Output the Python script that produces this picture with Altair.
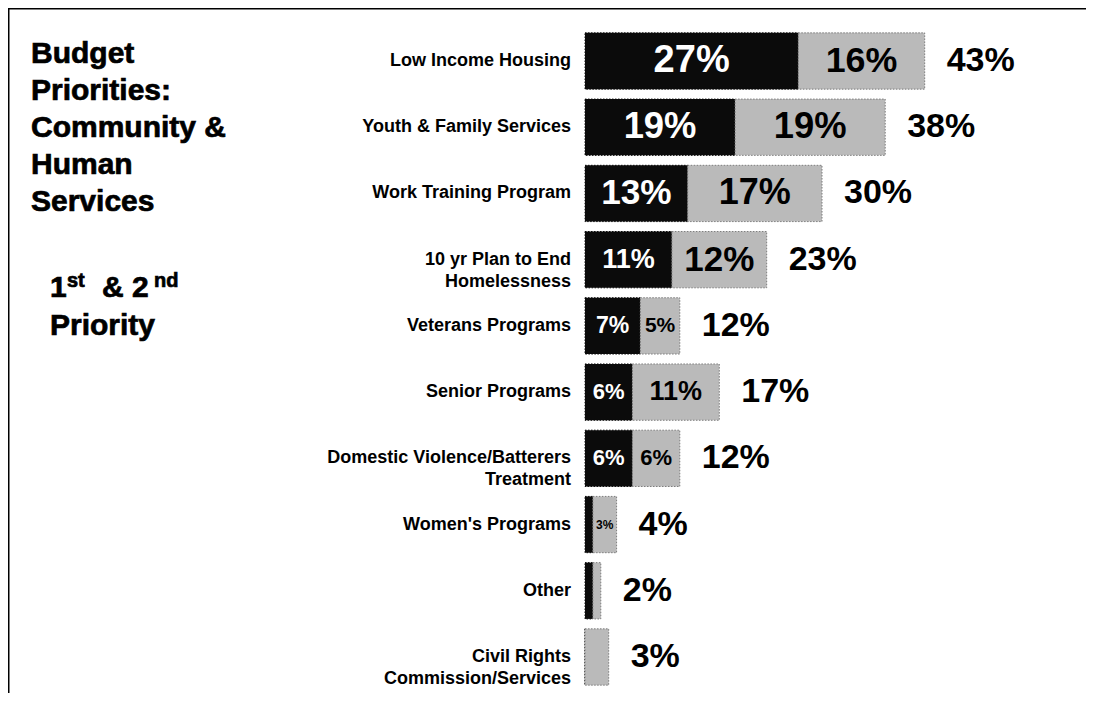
import altair as alt
import pandas as pd

# ---------------- data ----------------
categories = [
    "Low Income Housing",
    "Youth & Family Services",
    "Work Training Program",
    "10 yr Plan to End|Homelessness",
    "Veterans Programs",
    "Senior Programs",
    "Domestic Violence/Batterers|Treatment",
    "Women's Programs",
    "Other",
    "Civil Rights|Commission/Services",
]
first_priority = [27, 19, 13, 11, 7, 6, 6, 1, 1, 0]
second_priority = [16, 19, 17, 12, 5, 11, 6, 3, 1, 3]
first_labels = ["27%", "19%", "13%", "11%", "7%", "6%", "6%", "", "", ""]
second_labels = ["16%", "19%", "17%", "12%", "5%", "11%", "6%", "3%", "", ""]
total_labels = ["43%", "38%", "30%", "23%", "12%", "17%", "12%", "4%", "2%", "3%"]
series_names = ["#1 Priority", "#2 Priority"]

title_lines = "Budget|Priorities:|Community &|Human|Services"

# ---------------- tables built from the arrays ----------------
rows = []
for i, cat in enumerate(categories):
    a, b = first_priority[i], second_priority[i]
    rows.append(dict(cat=cat, priority=series_names[0], value=a, x0=0, x1=a,
                     mid=a / 2, label=first_labels[i]))
    rows.append(dict(cat=cat, priority=series_names[1], value=b, x0=a, x1=a + b,
                     mid=a + b / 2, label=second_labels[i]))
seg = pd.DataFrame(rows)
tot = pd.DataFrame(dict(cat=categories,
                        total=[a + b for a, b in zip(first_priority, second_priority)],
                        label=total_labels))

FONT = "Liberation Sans"
W, H = 1078, 685

xscale = alt.Scale(domain=[0, 50], range=[577, 972], nice=False, zero=False)
yscale = alt.Scale(domain=categories, range=[19.9, 682.1],
                   paddingInner=0.15, paddingOuter=0.075)
Y = alt.Y("cat:N", sort=categories, scale=yscale, axis=None)

bars = alt.Chart(seg).mark_bar(strokeWidth=1, strokeDash=[1.5, 1.5]).encode(
    x=alt.X("x0:Q", scale=xscale, axis=None),
    x2="x1:Q",
    y=Y,
    fill=alt.Fill("priority:N", scale=alt.Scale(domain=series_names,
                                                range=["#0b0b0b", "#bababa"]), legend=None),
    stroke=alt.Stroke("priority:N", scale=alt.Scale(domain=series_names,
                                                    range=["#0b0b0b", "#7c7c7c"]), legend=None),
)

inner = alt.Chart(seg).mark_text(font=FONT, fontWeight="bold", align="center",
                                 baseline="middle").encode(
    x=alt.X("mid:Q", scale=xscale, axis=None),
    y=Y,
    text="label:N",
    color=alt.Color("priority:N", scale=alt.Scale(domain=series_names,
                                                  range=["#ffffff", "#000000"]), legend=None),
    size=alt.Size("value:Q", scale=alt.Scale(domain=[1, 3, 5, 11, 12, 27],
                                             range=[10, 12, 21, 27, 35, 38]), legend=None),
)

totals = alt.Chart(tot).mark_text(font=FONT, fontWeight="bold", align="left",
                                  baseline="middle", dx=22, fontSize=34,
                                  color="#000").encode(
    x=alt.X("total:Q", scale=xscale, axis=None),
    y=Y,
    text="label:N",
)

cat_labels = alt.Chart(tot).mark_text(font=FONT, fontWeight="bold", align="right",
                                      baseline="middle", dx=-14, fontSize=18,
                                      lineBreak="|", lineHeight=22,
                                      color="#000").encode(
    x=alt.datum(0, scale=xscale),
    y=Y,
    text="cat:N",
)

one = pd.DataFrame({"k": [0]})

title = alt.Chart(one).mark_text(font=FONT, fontWeight="bold", align="left",
                                 baseline="alphabetic", fontSize=30, lineBreak="|",
                                 lineHeight=37, color="#000", stroke="#000",
                                 strokeWidth=0.7).encode(
    x=alt.value(23), y=alt.value(55), text=alt.value(title_lines))

def piece(txt, x, y, fs):
    return alt.Chart(one).mark_text(font=FONT, fontWeight="bold", align="left",
                                    baseline="alphabetic", fontSize=fs,
                                    color="#000", stroke="#000",
                                    strokeWidth=0.7).encode(
        x=alt.value(x), y=alt.value(y), text=alt.value(txt))

sub1 = piece("1", 42, 289, 30)
sub2 = piece("st", 59, 279, 20)
sub3 = piece("& 2", 94, 289, 30)
sub4 = piece("nd", 146, 279, 20)
sub5 = piece("Priority", 42, 327, 30)

frame_left = alt.Chart(one).mark_rule(color="#000", strokeWidth=1.5).encode(
    x=alt.value(0.75), y=alt.value(0), y2=alt.value(H))
frame_top = alt.Chart(one).mark_rule(color="#000", strokeWidth=1.5).encode(
    x=alt.value(0), x2=alt.value(W), y=alt.value(0.75))

chart = alt.layer(
    bars, inner, totals, cat_labels, title, sub1, sub2, sub3, sub4, sub5,
    frame_left, frame_top,
).resolve_scale(color="independent").properties(
    width=W, height=H, autosize=alt.AutoSizeParams(type="none"), padding=0,
    background="#ffffff",
).configure_view(stroke=None)

chart.save("out.html", embed_options={"renderer": "svg", "actions": False})
